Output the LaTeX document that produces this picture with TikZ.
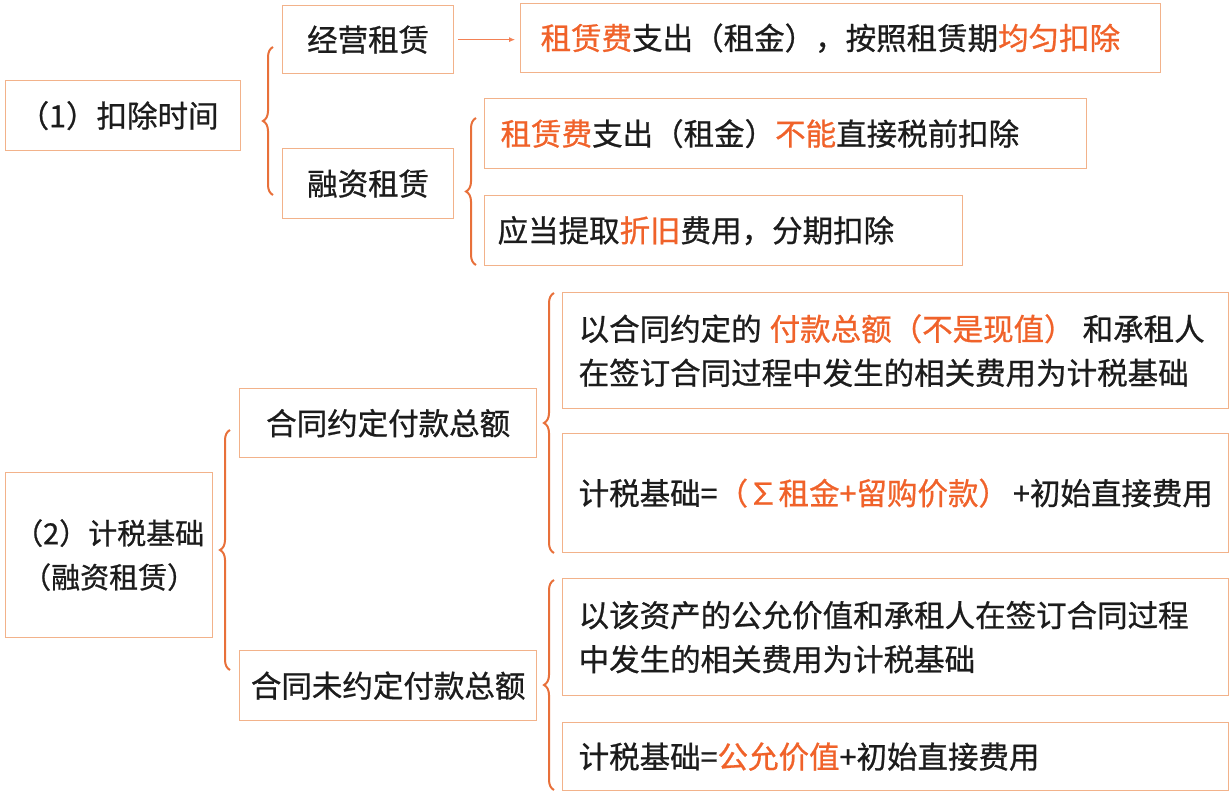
\documentclass[tikz,border=0pt]{standalone}
\usepackage{fontspec}
\usepackage{xcolor}
\usepackage{tikz}
\usetikzlibrary{arrows.meta,decorations.pathreplacing}

\newfontfamily\cjk[FakeBold=0.8]{Noto Sans CJK SC}
\definecolor{boxline}{RGB}{242,178,138}
\definecolor{hot}{RGB}{240,98,42}
\definecolor{bracecol}{RGB}{232,112,58}
\definecolor{ink}{RGB}{28,28,28}

\tikzset{
  box/.style={draw=boxline, line width=1.3pt, anchor=north west, inner ysep=0pt,
    text=ink, font=\cjk\fontsize{30.5}{44}\selectfont},
  lbox/.style={box, align=left},
  cbox/.style={box, align=center, inner xsep=0pt},
  brc/.style={draw=bracecol, line width=2pt, decorate,
    decoration={brace, amplitude=10pt}},
  arr/.style={draw=hot!80, line width=0.8pt, -{Latex[length=6pt,width=5pt]}},
}

\begin{document}
\begin{tikzpicture}[x=1pt, y=-1pt]
  \useasboundingbox (0,0) rectangle (1232,792);

  % (1) deduction timing
  \node[lbox, inner xsep=13pt, text width=209pt, minimum height=70pt] (kc) at (5,80) {（1）扣除时间};
  \node[cbox, minimum width=171pt, minimum height=68pt] (jy) at (282,5) {经营租赁};
  \node[cbox, minimum width=171pt, minimum height=70pt] (rz) at (282,148) {融资租赁};
  \node[lbox, inner xsep=20pt, text width=600pt, minimum height=69pt] (zy) at (520,3)
    {\textcolor{hot}{租赁费}支出（租金），按照租赁期\textcolor{hot}{均匀扣除}};
  \node[lbox, inner xsep=16pt, text width=570pt, minimum height=70pt] (bn) at (484,98)
    {\textcolor{hot}{租赁费}支出（租金）\textcolor{hot}{不能}直接税前扣除};
  \node[lbox, inner xsep=13pt, text width=452pt, minimum height=70pt] (zj) at (484,195)
    {应当提取\textcolor{hot}{折旧}费用，分期扣除};
  \draw[arr] ([xshift=4pt]jy.east) -- ([xshift=-5pt]jy.east -| zy.west);

  \coordinate (b1t) at (273,47);
  \coordinate (b1b) at (273,195);
  \draw[brc] (b1b) -- (b1t);
  \coordinate (b2t) at (476,118);
  \coordinate (b2b) at (476,265);
  \draw[brc] (b2b) -- (b2t);

  % (2) tax base
  \node[cbox, minimum width=207pt, minimum height=165pt, font=\cjk\fontsize{29}{44}\selectfont] (jc) at (5,472)
    {（2）计税基础\\（融资租赁）};
  \node[cbox, minimum width=297pt, minimum height=69pt] (yd) at (239,388) {合同约定付款总额};
  \node[cbox, minimum width=297pt, minimum height=70pt] (wd) at (239,650) {合同未约定付款总额};
  \node[lbox, inner xsep=16pt, text width=634pt, minimum height=116pt] (ze) at (562,292)
    {以合同约定的\hspace{8pt}\textcolor{hot}{付款总额（不是现值）}\hspace{8pt}和承租人\\在签订合同过程中发生的相关费用为计税基础};
  \node[lbox, inner xsep=16pt, text width=634pt, minimum height=119pt] (gs) at (562,433)
    {\mbox{计税基础=\textcolor{hot}{（∑租金+留购价款）}\hspace{4pt}+初始直接费用}};
  \node[lbox, inner xsep=16pt, text width=634pt, minimum height=117pt] (gy) at (562,578)
    {以该资产的公允价值和承租人在签订合同过程\\中发生的相关费用为计税基础};
  \node[lbox, inner xsep=16pt, text width=634pt, minimum height=68pt] (gz) at (562,722)
    {计税基础=\textcolor{hot}{公允价值}+初始直接费用};

  \coordinate (b3t) at (230,430);
  \coordinate (b3b) at (230,670);
  \draw[brc] (b3b) -- (b3t);
  \coordinate (b4t) at (554,293);
  \coordinate (b4b) at (554,553);
  \draw[brc] (b4b) -- (b4t);
  \coordinate (b5t) at (554,580);
  \coordinate (b5b) at (554,790);
  \draw[brc] (b5b) -- (b5t);
\end{tikzpicture}
\end{document}
